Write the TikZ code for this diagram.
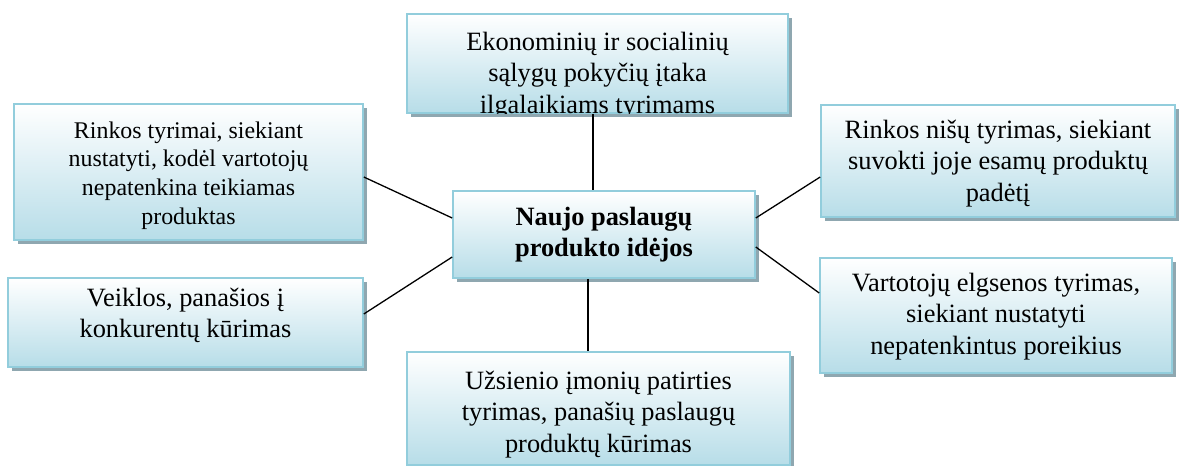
\documentclass[tikz,border=0pt]{standalone}
\usepackage{fontspec}
\setmainfont{Liberation Serif}
\usetikzlibrary{shadows}

\definecolor{boxborder}{RGB}{146,205,220}
\definecolor{boxfill}{RGB}{183,221,232}
\definecolor{boxshadow}{RGB}{143,167,176}

\tikzset{
  ideabox/.style={draw=boxborder, line width=1.6pt, top color=white, bottom color=boxfill,
    inner sep=0pt, drop shadow={shadow xshift=3.5pt, shadow yshift=-3.5pt, fill=boxshadow, opacity=1}},
  boxtext/.style={anchor=north, inner sep=0pt, align=center,
    font=\fontsize{26.4}{31.5}\selectfont},
  smalltext/.style={anchor=north, inner sep=0pt, align=center,
    font=\fontsize{23.9}{28.6}\selectfont},
  link/.style={draw=black, line width=1.3pt}
}

\begin{document}
\begin{tikzpicture}[x=1pt, y=-1pt]
\useasboundingbox (0,0) rectangle (1179,466);

% boxes: centre and size
\node[ideabox, minimum width=381pt, minimum height=99pt]  (ekon) at (597.5,63.5) {};
\node[ideabox, minimum width=349pt, minimum height=136pt] (lt)   at (188.5,172) {};
\node[ideabox, minimum width=302pt, minimum height=87pt]  (idea) at (604,234.5) {};
\node[ideabox, minimum width=354pt, minimum height=112pt] (rt)   at (998,161) {};
\node[ideabox, minimum width=355pt, minimum height=89pt]  (lb)   at (185.5,322.5) {};
\node[ideabox, minimum width=352pt, minimum height=115pt] (rb)   at (996,315.5) {};
\node[ideabox, minimum width=383pt, minimum height=113pt] (ue)   at (598.5,408.5) {};

% texts (north = first baseline minus strut height)
\begin{scope}
  \clip (407,14) rectangle (788,113);
  \node[boxtext] (ekon-t) at (597.5,27.95) {\strut Ekonominių ir socialinių\\sąlygų pokyčių įtaka\\ilgalaikiams tyrimams};
\end{scope}
\node[smalltext] (lt-t) at (188.5,117.98) {\strut Rinkos tyrimai, siekiant\\nustatyti, kodėl vartotojų\\nepatenkina teikiamas\\produktas};
\node[boxtext, font=\fontsize{26.4}{31.5}\selectfont\bfseries] (idea-t) at (604,202.95) {\strut Naujo paslaugų\\produkto idėjos};
\node[boxtext] (rt-t) at (998,115.95) {\strut Rinkos nišų tyrimas, siekiant\\suvokti joje esamų produktų\\padėtį};
\node[boxtext] (lb-t) at (185.5,283.95) {\strut Veiklos, panašios į\\konkurentų kūrimas};
\node[boxtext] (rb-t) at (996,268.95) {\strut Vartotojų elgsenos tyrimas,\\siekiant nustatyti\\nepatenkintus poreikius};
\node[boxtext] (ue-t) at (598.5,366.95) {\strut Užsienio įmonių patirties\\tyrimas, panašių paslaugų\\produktų kūrimas};

% connectors from the centre box
\draw[link] (ekon.south -| 593,0) -- (idea.north -| 593,0);
\draw[link] (idea.south -| 588,0) -- (ue.north -| 588,0);
\draw[link] (lt.east |- 0,177) -- (idea.west |- 0,218);
\draw[link] (lb.east |- 0,314) -- (idea.west |- 0,257);
\draw[link] (idea.east |- 0,218) -- (rt.west |- 0,177);
\draw[link] (idea.east |- 0,247) -- (rb.west |- 0,293);
\end{tikzpicture}
\end{document}
